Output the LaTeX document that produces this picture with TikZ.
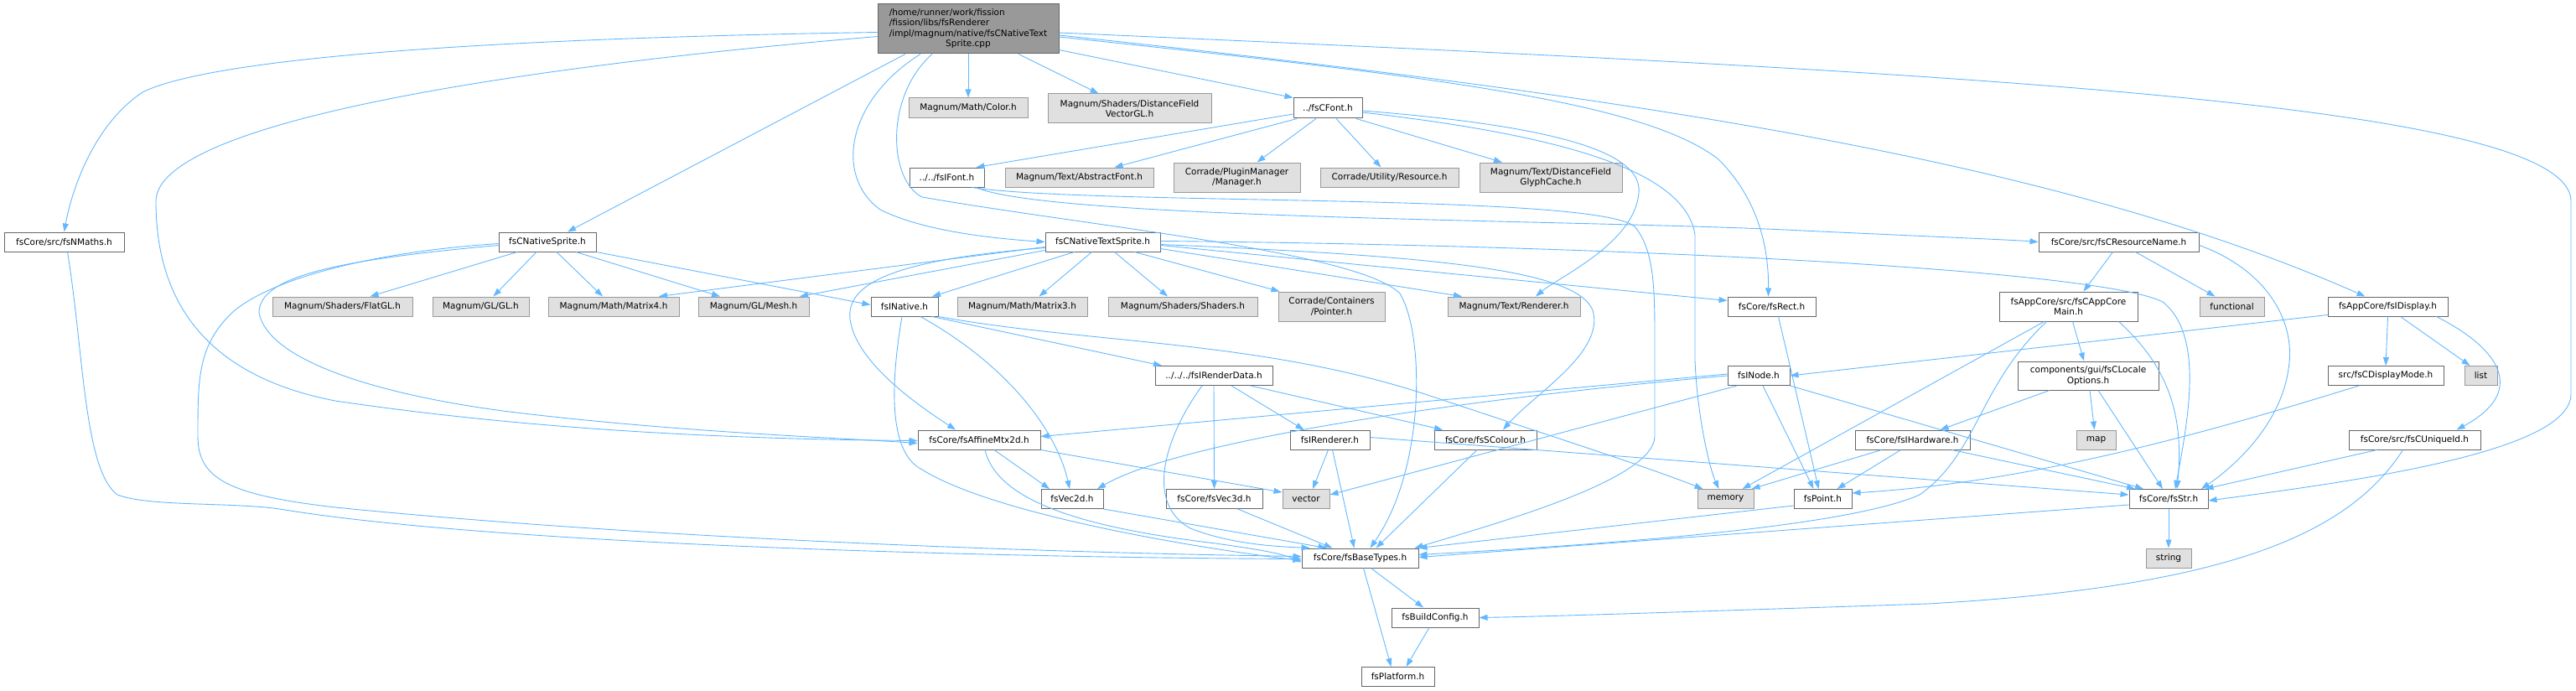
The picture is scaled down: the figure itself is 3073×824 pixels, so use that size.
\documentclass[tikz,border=0pt]{standalone}
\usepackage{fontspec}
\setmainfont{DejaVu Sans}
\usetikzlibrary{arrows.meta}
\definecolor{edgeblue}{HTML}{63B8FF}
\definecolor{intborder}{HTML}{666666}
\definecolor{extborder}{HTML}{999999}
\definecolor{extfill}{HTML}{E0E0E0}
\definecolor{mainfill}{HTML}{999999}
\begin{document}
\begin{tikzpicture}[x=1pt,y=-1pt,
  box/.style={draw=intborder, line width=1pt, fill=white, inner sep=0pt, align=center,
    font=\fontsize{10.5}{12.5}\selectfont, minimum height=23pt},
  ext/.style={box, draw=extborder, fill=extfill},
  mainbox/.style={box, fill=mainfill},
  edge/.style={draw=edgeblue, line width=0.9pt, -{Triangle[length=10pt,width=7pt]}}]
\useasboundingbox (0,0) rectangle (3073,824);
% ---------- nodes ----------
\node[mainbox, minimum width=216pt, minimum height=59pt] (main) at (1155,34.5)
 {\begin{tabular}{@{}l@{}}/home/runner/work/fission\\/fission/libs/fsRenderer\\/impl/magnum/native/fsCNativeText\\\multicolumn{1}{@{}c@{}}{Sprite.cpp}\end{tabular}};
% row 1
\node[ext, minimum width=142pt, minimum height=24pt] (color) at (1155,129) {Magnum/Math/Color.h};
\node[ext, minimum width=195pt, minimum height=35pt] (dfvec) at (1347.5,129.5) {Magnum/Shaders/DistanceField\\VectorGL.h};
\node[box, minimum width=82pt, minimum height=24pt] (cfont) at (1584,129) {../fsCFont.h};
% row 2
\node[box, minimum width=89pt] (ifont) at (1129.5,211.5) {../../fsIFont.h};
\node[ext, minimum width=177pt] (absfont) at (1287.5,211.5) {Magnum/Text/AbstractFont.h};
\node[ext, minimum width=151pt, minimum height=35pt] (plugin) at (1475.5,211.5) {Corrade/PluginManager\\/Manager.h};
\node[ext, minimum width=165pt] (resource) at (1657.5,211.5) {Corrade/Utility/Resource.h};
\node[ext, minimum width=170pt, minimum height=35pt] (glyph) at (1850,211.5) {Magnum/Text/DistanceField\\GlyphCache.h};
% row 3
\node[box, minimum width=143pt] (nmaths) at (76.5,288.5) {fsCore/src/fsNMaths.h};
\node[box, minimum width=116pt] (nsprite) at (653,288.5) {fsCNativeSprite.h};
\node[box, minimum width=137pt] (ntsprite) at (1315.5,288.5) {fsCNativeTextSprite.h};
\node[box, minimum width=191pt] (resname) at (2527.5,288.5) {fsCore/src/fsCResourceName.h};
% row 4
\node[ext, minimum width=167pt] (flatgl) at (408.5,365.5) {Magnum/Shaders/FlatGL.h};
\node[ext, minimum width=115pt] (gl) at (573.5,365.5) {Magnum/GL/GL.h};
\node[ext, minimum width=156pt] (mat4) at (732,365.5) {Magnum/Math/Matrix4.h};
\node[ext, minimum width=132pt] (mesh) at (899,365.5) {Magnum/GL/Mesh.h};
\node[box, minimum width=80pt] (inative) at (1079,365.5) {fsINative.h};
\node[ext, minimum width=155pt] (mat3) at (1219.5,365.5) {Magnum/Math/Matrix3.h};
\node[ext, minimum width=178pt] (shaders) at (1411,365.5) {Magnum/Shaders/Shaders.h};
\node[ext, minimum width=127pt, minimum height=35pt] (pointer) at (1588.5,365.5) {Corrade/Containers\\/Pointer.h};
\node[ext, minimum width=158pt] (trender) at (1806,365.5) {Magnum/Text/Renderer.h};
\node[box, minimum width=105pt] (rect) at (2113.5,365.5) {fsCore/fsRect.h};
\node[box, minimum width=165pt, minimum height=35pt] (appcore) at (2467.5,365.5) {fsAppCore/src/fsCAppCore\\Main.h};
\node[ext, minimum width=77pt] (functional) at (2662.5,365.5) {functional};
\node[box, minimum width=143pt] (idisplay) at (2848.5,365.5) {fsAppCore/fsIDisplay.h};
% row 5
\node[box, minimum width=140pt] (renderdata) at (1448,448) {../../../fsIRenderData.h};
\node[box, minimum width=74pt] (inode) at (2098,448) {fsINode.h};
\node[box, minimum width=168pt, minimum height=34pt] (locale) at (2491,448) {components/gui/fsCLocale\\Options.h};
\node[box, minimum width=138pt] (dispmode) at (2846,448) {src/fsCDisplayMode.h};
\node[ext, minimum width=39pt] (list) at (2959.5,448) {list};
% row 6
\node[box, minimum width=146pt] (affine) at (1168,524.5) {fsCore/fsAffineMtx2d.h};
\node[box, minimum width=95pt] (irenderer) at (1586.5,524.5) {fsIRenderer.h};
\node[box, minimum width=122pt] (scolour) at (1772,524.5) {fsCore/fsSColour.h};
\node[box, minimum width=137pt] (ihardware) at (2281.5,524.5) {fsCore/fsIHardware.h};
\node[ext, minimum width=47pt] (map) at (2500.5,524.5) {map};
\node[box, minimum width=157pt] (uniqueid) at (2880.5,524.5) {fsCore/src/fsCUniqueId.h};
% row 7
\node[box, minimum width=74pt] (vec2d) at (1279,595) {fsVec2d.h};
\node[box, minimum width=115pt] (vec3d) at (1448.5,595) {fsCore/fsVec3d.h};
\node[ext, minimum width=56pt] (vector) at (1558,595) {vector};
\node[ext, minimum width=67pt] (memory) at (2058.5,595) {memory};
\node[box, minimum width=69pt] (point) at (2174.5,595) {fsPoint.h};
\node[box, minimum width=94pt] (str) at (2587,595) {fsCore/fsStr.h};
% row 8+
\node[box, minimum width=139pt] (basetypes) at (1622.5,665.5) {fsCore/fsBaseTypes.h};
\node[ext, minimum width=54pt] (string) at (2587,665.5) {string};
\node[box, minimum width=104pt] (buildconfig) at (1712,736.5) {fsBuildConfig.h};
\node[box, minimum width=87pt] (platform) at (1667.5,807) {fsPlatform.h};
% ---------- edges from main ----------
\draw[edge] ([yshift=-4pt]main.west) .. controls (450,48) and (230,80) .. (170,110) .. controls (110,150) and (85,230) .. (nmaths.north);
\draw[edge] ([yshift=-9pt]main.west) .. controls (500,90) and (186,160) .. (186,240) .. controls (186,390) and (280,455) .. (400,478) .. controls (650,515) and (900,524) .. ([yshift=-1pt]affine.west);
\draw[edge] ([xshift=-75pt]main.south) -- ([xshift=24pt]nsprite.north);
\draw[edge] ([xshift=-57pt]main.south) .. controls (1010,120) and (995,210) .. (1050,250) .. controls (1100,275) and (1180,284) .. (ntsprite.west);
\draw[edge] ([xshift=-43pt]main.south) .. controls (1055,115) and (1060,215) .. (1100,235) .. controls (1300,270) and (1620,300) .. (1670,350) .. controls (1700,400) and (1700,560) .. ([xshift=12pt]basetypes.north);
\draw[edge] (main.south) -- (color.north);
\draw[edge] ([xshift=60pt]main.south) -- ([xshift=-37pt]dfvec.north);
\draw[edge] ([yshift=-25pt]main.east) -- (cfont.north west);
\draw[edge] ([yshift=-9.5pt]main.east) .. controls (1700,90) and (1960,120) .. (2050,190) .. controls (2100,240) and (2110,300) .. ([xshift=-4pt]rect.north);
\draw[edge] ([yshift=-7.5pt]main.east) .. controls (1950,115) and (2450,190) .. ([xshift=-27pt]idisplay.north);
\draw[edge] ([yshift=-4.5pt]main.east) .. controls (2300,85) and (3067,120) .. (3067,240) -- (3067,470) .. controls (3067,540) and (2800,575) .. ([yshift=-2pt]str.east);
% ---------- fsCNativeSprite ----------
\draw[edge] ([xshift=-36pt]nsprite.south) -- ([xshift=33pt]flatgl.north);
\draw[edge] ([xshift=-13pt]nsprite.south) -- ([xshift=15pt]gl.north);
\draw[edge] ([xshift=11pt]nsprite.south) -- ([xshift=-13pt]mat4.north);
\draw[edge] ([xshift=34pt]nsprite.south) -- ([xshift=-40pt]mesh.north);
\draw[edge] (nsprite.south east) -- ([yshift=2pt]inative.west);
\draw[edge] ([yshift=-4pt]nsprite.west) .. controls (400,310) and (309,330) .. (309,373) .. controls (320,430) and (450,470) .. (600,490) .. controls (800,515) and (1000,522) .. ([yshift=-4pt]affine.west);
\draw[edge] ([yshift=-2pt]nsprite.west) .. controls (450,300) and (330,330) .. (280,370) .. controls (236,410) and (236,450) .. (236,520) .. controls (236,570) and (270,590) .. (400,605) .. controls (800,645) and (1300,660) .. ([yshift=2pt]basetypes.west);
\draw[edge] ([xshift=4pt]nmaths.south) .. controls (100,420) and (100,560) .. (140,590) .. controls (180,605) and (280,598) .. (340,608) .. controls (600,650) and (1200,665) .. ([yshift=-1pt]basetypes.west);
% ---------- fsCNativeTextSprite ----------
\draw[edge] ([xshift=-34pt]ntsprite.south) -- ([xshift=33pt]inative.north);
\draw[edge] ([xshift=-13pt]ntsprite.south) -- ([xshift=20pt]mat3.north);
\draw[edge] ([xshift=14pt]ntsprite.south) -- ([xshift=-18pt]shaders.north);
\draw[edge] ([xshift=38pt]ntsprite.south) -- ([xshift=-62pt]pointer.north);
\draw[edge] ([yshift=-8pt]ntsprite.east) -- ([xshift=-62pt]trender.north);
\draw[edge] ([yshift=-4pt]ntsprite.east) -- ([yshift=7pt]rect.west);
\draw[edge] ([yshift=-6pt]ntsprite.west) -- ([xshift=54pt]mat4.north);
\draw[edge] ([yshift=-10pt]ntsprite.west) -- ([xshift=55pt]mesh.north);
\draw[edge] ([yshift=-7pt]ntsprite.west) .. controls (1060,310) and (1010,340) .. (1014,380) .. controls (1020,430) and (1090,480) .. ([xshift=-28pt]affine.north);
\draw[edge] ([yshift=-3pt]ntsprite.east) .. controls (1700,305) and (1880,320) .. (1900,370) .. controls (1915,420) and (1830,470) .. ([xshift=21pt]scolour.north);
\draw[edge] ([yshift=1pt]ntsprite.east) .. controls (1900,292) and (2500,320) .. (2580,360) .. controls (2630,400) and (2610,500) .. ([xshift=8pt]str.north);
% ---------- fsCFont ----------
\draw[edge] ([yshift=-7pt]cfont.west) -- ([xshift=35pt]ifont.north);
\draw[edge] ([xshift=-37pt]cfont.south) -- ([xshift=42pt]absfont.north);
\draw[edge] ([xshift=-14pt]cfont.south) -- ([xshift=24pt]plugin.north);
\draw[edge] ([xshift=10pt]cfont.south) -- ([xshift=-10pt]resource.north);
\draw[edge] ([xshift=34pt]cfont.south) -- ([xshift=-58pt]glyph.north);
\draw[edge] ([yshift=-3pt]cfont.east) .. controls (1850,150) and (1960,180) .. (1955,230) .. controls (1950,290) and (1860,330) .. ([xshift=26pt]trender.north);
\draw[edge] ([yshift=-5pt]cfont.east) .. controls (1850,160) and (2010,200) .. (2022,280) -- (2022,430) .. controls (2025,500) and (2040,560) .. ([xshift=-8pt]memory.north);
% ---------- fsIFont ----------
\draw[edge] ([xshift=35pt]ifont.south) .. controls (1250,262) and (1900,262) .. (2150,275) .. controls (2300,282) and (2400,286) .. (resname.west);
\draw[edge] ([xshift=30pt]ifont.south) .. controls (1300,245) and (1900,230) .. (1950,270) .. controls (1975,300) and (1974,350) .. (1974,420) -- (1974,520) .. controls (1974,570) and (1800,620) .. ([xshift=-5pt]basetypes.north east);
% ---------- fsINative ----------
\draw[edge] ([xshift=-3pt]inative.south) .. controls (1062,460) and (1060,540) .. (1100,560) .. controls (1180,610) and (1400,650) .. ([yshift=-3pt]basetypes.west);
\draw[edge] ([xshift=19pt]inative.south) .. controls (1210,440) and (1262,520) .. ([xshift=-3pt]vec2d.north);
\draw[edge] ([xshift=33pt]inative.south) -- ([xshift=-62pt]renderdata.north);
\draw[edge] (inative.south east) .. controls (1300,410) and (1500,405) .. (1700,470) .. controls (1850,520) and (1960,555) .. ([xshift=-27pt]memory.north);
% ---------- fsIRenderData ----------
\draw[edge] ([xshift=-14pt]renderdata.south) .. controls (1390,520) and (1365,600) .. (1420,630) .. controls (1470,650) and (1530,652) .. ([xshift=-60pt]basetypes.north);
\draw[edge] (renderdata.south) -- (vec3d.north);
\draw[edge] ([xshift=21pt]renderdata.south) -- ([xshift=-31pt]irenderer.north);
\draw[edge] ([xshift=44pt]renderdata.south) -- ([xshift=-51pt]scolour.north);
% ---------- fsIRenderer, fsSColour ----------
\draw[edge] ([xshift=-2pt]irenderer.south) -- ([xshift=8pt]vector.north);
\draw[edge] ([xshift=3pt]irenderer.south) -- ([xshift=-7pt]basetypes.north);
\draw[edge] ([yshift=3pt]irenderer.east) -- ([yshift=5pt]str.west);
\draw[edge] ([xshift=-10pt]scolour.south) -- ([xshift=19pt]basetypes.north);
% ---------- fsAffineMtx2d, vectors ----------
\draw[edge] ([xshift=18pt]affine.south) -- ([xshift=-27pt]vec2d.north);
\draw[edge] (affine.south east) -- ([yshift=8pt]vector.west);
\draw[edge] ([xshift=7pt]affine.south) .. controls (1190,600) and (1300,630) .. (1450,648) .. controls (1500,655) and (1530,660) .. ([yshift=-5pt]basetypes.west);
\draw[edge] (vec2d.south east) -- ([xshift=-40pt]basetypes.north);
\draw[edge] ([xshift=28pt]vec3d.south) -- ([xshift=-33pt]basetypes.north);
% ---------- fsINode ----------
\draw[edge] ([yshift=2pt]inode.west) -- ([yshift=4pt]affine.east);
\draw[edge] (inode.west) .. controls (1700,480) and (1400,530) .. ([xshift=30pt]vec2d.north);
\draw[edge] ([xshift=-26pt]inode.south) -- ([yshift=5pt]vector.east);
\draw[edge] ([xshift=5pt]inode.south) -- ([xshift=-11pt]point.north);
\draw[edge] (inode.south east) -- ([xshift=-30pt]str.north);
% ---------- fsRect, fsPoint ----------
\draw[edge] ([xshift=8pt]rect.south) -- ([xshift=-5pt]point.north);
\draw[edge] ([yshift=-8pt]point.west) -- ([yshift=12pt]basetypes.east);
% ---------- fsCResourceName ----------
\draw[edge] ([xshift=-7pt]resname.south) -- ([xshift=18pt]appcore.north);
\draw[edge] ([xshift=20pt]resname.south) -- ([xshift=-20pt]functional.north);
\draw[edge] ([yshift=-4pt]resname.east) .. controls (2700,320) and (2740,380) .. (2730,440) .. controls (2720,510) and (2660,560) .. ([xshift=39pt]str.north);
% ---------- fsCAppCoreMain ----------
\draw[edge] ([xshift=5pt]appcore.south) -- ([xshift=-5pt]locale.north);
\draw[edge] ([xshift=-29pt]appcore.south) -- ([xshift=20pt]memory.north);
\draw[edge] ([xshift=-26pt]appcore.south) .. controls (2360,460) and (2360,540) .. (2290,590) .. controls (2200,630) and (1900,650) .. ([yshift=4pt]basetypes.east);
\draw[edge] ([xshift=60pt]appcore.south) .. controls (2590,440) and (2605,500) .. ([xshift=10pt]str.north);
% ---------- fsCLocaleOptions ----------
\draw[edge] ([xshift=-46pt]locale.south) -- ([xshift=33pt]ihardware.north);
\draw[edge] ([xshift=2pt]locale.south) -- ([xshift=-2pt]map.north);
\draw[edge] ([xshift=12pt]locale.south) -- ([xshift=-7pt]str.north);
% ---------- fsIHardware ----------
\draw[edge] ([xshift=-37pt]ihardware.south) -- ([xshift=31pt]memory.north);
\draw[edge] ([xshift=-14pt]ihardware.south) -- ([xshift=17pt]point.north);
\draw[edge] ([xshift=47pt]ihardware.south) -- ([xshift=-40pt]str.north);
% ---------- fsIDisplay ----------
\draw[edge] ([yshift=-10pt]idisplay.west) -- (inode.east);
\draw[edge] (idisplay.south) -- (dispmode.north);
\draw[edge] ([xshift=15pt]idisplay.south) -- ([xshift=-13pt]list.north);
\draw[edge] ([xshift=58pt]idisplay.south) .. controls (2990,420) and (3010,470) .. ([xshift=50pt]uniqueid.north);
\draw[edge] ([xshift=-32pt]dispmode.south) .. controls (2620,520) and (2420,575) .. ([yshift=7pt]point.east);
% ---------- fsCUniqueId ----------
\draw[edge] ([xshift=-45pt]uniqueid.south) -- ([xshift=-4pt]str.north east);
\draw[edge] ([xshift=-14pt]uniqueid.south) .. controls (2800,640) and (2650,700) .. (2300,720) .. controls (2000,730) and (1850,735) .. (buildconfig.east);
% ---------- fsStr, fsBaseTypes ----------
\draw[edge] (str.south) -- (string.north);
\draw[edge] ([yshift=-7pt]str.west) -- ([yshift=1pt]basetypes.east);
\draw[edge] ([xshift=13pt]basetypes.south) -- ([xshift=-14pt]buildconfig.north);
\draw[edge] ([xshift=4pt]basetypes.south) -- ([xshift=-8pt]platform.north);
\draw[edge] ([xshift=-7pt]buildconfig.south) -- ([xshift=10pt]platform.north);
\end{tikzpicture}
\end{document}
